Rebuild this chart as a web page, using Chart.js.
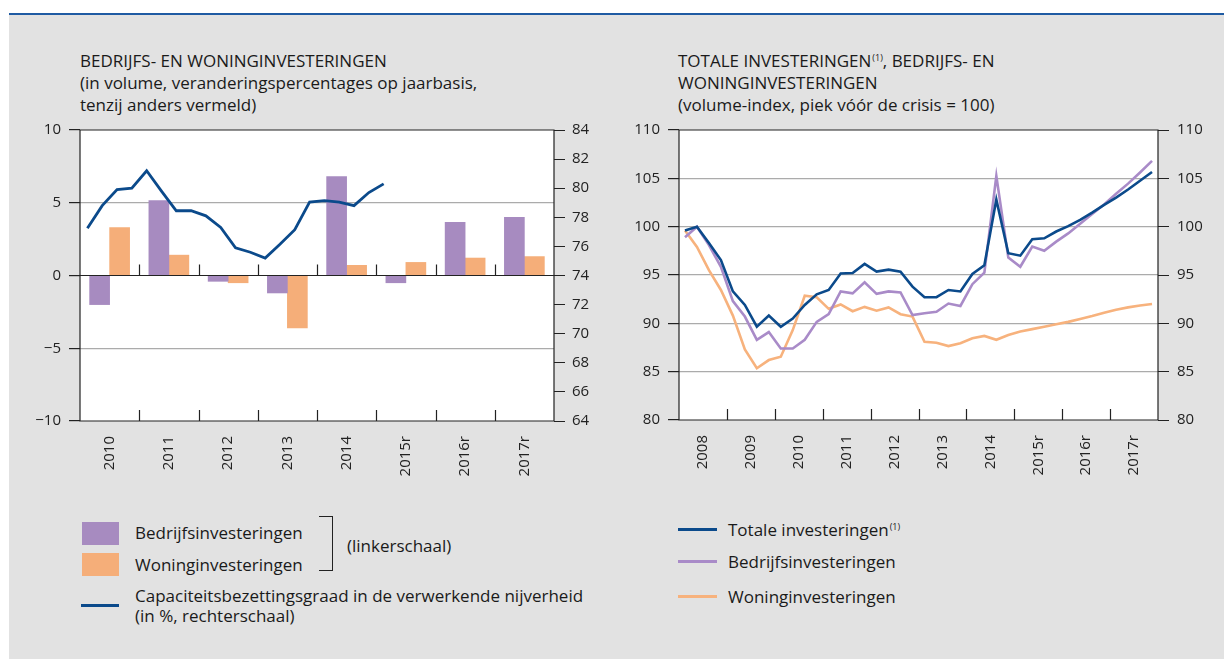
<!DOCTYPE html>
<html>
<head>
<meta charset="utf-8">
<script src="https://cdn.jsdelivr.net/npm/chart.js@4.4.1/dist/chart.umd.min.js"></script>
<style>
  html, body { margin:0; padding:0; background:#ffffff; }
  body { width:1224px; height:659px; position:relative; overflow:hidden; font-family:'Open Sans', sans-serif; color:#1a1a1a; }
  #panel { position:absolute; left:9px; top:15px; right:0; bottom:0; background:#e2e2e2; }
  #rule { position:absolute; left:9px; top:13px; right:0; height:2px; background:#1f5ba3; }
  .t { position:absolute; font-size:17px; line-height:22px; white-space:nowrap; color:#1a1a1a; }
  .lg { position:absolute; font-size:17px; line-height:20px; white-space:nowrap; color:#1a1a1a; }
  sup { font-size:9px; vertical-align:top; position:relative; top:-3px; margin-left:1px; }
  .box { position:absolute; }
  .cv { position:absolute; }
</style>
</head>
<body>
<div id="panel"></div>
<div id="rule"></div>

<div class="t" style="left:80px; top:50px;">BEDRIJFS- EN WONINGINVESTERINGEN<br>(in volume, veranderingspercentages op jaarbasis,<br>tenzij anders vermeld)</div>
<div class="t" style="left:678px; top:50px;">TOTALE INVESTERINGEN<sup>(1)</sup>, BEDRIJFS- EN<br>WONINGINVESTERINGEN<br>(volume-index, piek vóór de crisis = 100)</div>

<canvas id="c1" class="cv" width="600" height="360" style="left:20px; top:120px; width:600px; height:360px;"></canvas>
<canvas id="c2" class="cv" width="604" height="360" style="left:620px; top:120px; width:604px; height:360px;"></canvas>

<!-- left legend -->
<div class="box" style="left:82px; top:522px; width:37px; height:23px; background:#a78bc0;"></div>
<div class="box" style="left:82px; top:553px; width:37px; height:23px; background:#f5ae79;"></div>
<div class="lg" style="left:135px; top:523px;">Bedrijfsinvesteringen</div>
<div class="lg" style="left:135px; top:555px;">Woninginvesteringen</div>
<div class="box" style="left:319px; top:516px; width:13px; height:53px; border:1.5px solid #222; border-left:none;"></div>
<div class="lg" style="left:347px; top:536px;">(linkerschaal)</div>
<div class="box" style="left:81px; top:604px; width:38px; height:3px; background:#0b4a8b;"></div>
<div class="lg" style="left:135px; top:586px;">Capaciteitsbezettingsgraad in de verwerkende nijverheid<br>(in %, rechterschaal)</div>

<!-- right legend -->
<div class="box" style="left:678px; top:528px; width:39px; height:3px; background:#0b4a8b;"></div>
<div class="lg" style="left:728px; top:520px;">Totale investeringen<sup>(1)</sup></div>
<div class="box" style="left:678px; top:560px; width:39px; height:3px; background:#a98bc8;"></div>
<div class="lg" style="left:728px; top:552px;">Bedrijfsinvesteringen</div>
<div class="box" style="left:678px; top:595px; width:39px; height:3px; background:#f7b27d;"></div>
<div class="lg" style="left:728px; top:587px;">Woninginvesteringen</div>

<script>
// ---------- data: left chart ----------
const yearsLeft = ['2010', '2011', '2012', '2013', '2014', '2015r', '2016r', '2017r'];
const bedrijfsGroei = [-2.0, 5.15, -0.4, -1.2, 6.8, -0.5, 3.65, 4.0];
const woningGroei = [3.3, 1.4, -0.5, -3.6, 0.7, 0.9, 1.2, 1.3];
// quarterly, 2010Q1 .. 2015Q1
const capaciteit = [77.25, 78.8, 79.9, 80.0, 81.2, 79.8, 78.45, 78.45, 78.1, 77.3, 75.9, 75.6,
                    75.2, 76.15, 77.15, 79.05, 79.15, 79.05, 78.8, 79.7, 80.3];

// ---------- data: right chart (quarterly 2008Q1 .. 2017Q4) ----------
const yearsRight = ['2008', '2009', '2010', '2011', '2012', '2013', '2014', '2015r', '2016r', '2017r'];
const totaal = [99.6, 100.0, 98.3, 96.55, 93.3, 91.9, 89.65, 90.8, 89.65, 90.5,
                91.9, 93.0, 93.45, 95.15, 95.2, 96.15, 95.35, 95.55, 95.35, 93.8,
                92.7, 92.7, 93.45, 93.3, 95.1, 96.0, 102.8, 97.25, 97.0, 98.7,
                98.8, 99.5, 100.05, 100.7, 101.45, 102.25, 103.0, 103.85, 104.75, 105.65];
const bedrijfs = [98.9, 100.0, 98.1, 95.85, 92.3, 90.7, 88.3, 89.1, 87.4, 87.4,
                  88.3, 90.15, 90.95, 93.3, 93.1, 94.25, 93.05, 93.3, 93.2, 90.85,
                  91.05, 91.2, 92.05, 91.8, 94.05, 95.25, 105.25, 96.8, 95.85, 97.95,
                  97.5, 98.45, 99.3, 100.3, 101.3, 102.3, 103.4, 104.45, 105.6, 106.8];
const woning = [99.6, 97.9, 95.5, 93.45, 90.8, 87.3, 85.35, 86.2, 86.55, 89.3,
                92.85, 92.7, 91.5, 91.95, 91.25, 91.7, 91.3, 91.65, 90.95, 90.7,
                88.1, 88.0, 87.65, 87.95, 88.45, 88.7, 88.3, 88.8, 89.15, 89.4,
                89.65, 89.9, 90.15, 90.45, 90.75, 91.1, 91.4, 91.65, 91.85, 92.0];

const leftAxisMin = -10, leftAxisMax = 10, leftAxisStep = 5;
const capAxisMin = 64, capAxisMax = 84, capAxisStep = 2;
const idxAxisMin = 80, idxAxisMax = 110, idxAxisStep = 5;

function quarters(years) {
  const q = [];
  years.forEach(y => { for (let k = 1; k <= 4; k++) q.push(y + 'Q' + k); });
  return q;
}

const NAVY = '#0b4a8b', PURPLE = '#a78bc0', ORANGE = '#f5ae79';
const PURPLE_L = '#a98bc8', ORANGE_L = '#f7b27d';
const INK = '#222222', GRID = '#ababab';

Chart.defaults.font.family = "'Open Sans', sans-serif";
Chart.defaults.font.size = 15;
Chart.defaults.color = '#222222';

const framePlugin = {
  id: 'frame',
  beforeDraw(chart) {
    const { ctx, chartArea: a } = chart;
    ctx.save();
    ctx.fillStyle = '#ffffff';
    ctx.fillRect(a.left, a.top, a.right - a.left, a.bottom - a.top);
    ctx.restore();
  },
  afterDatasetsDraw(chart, args, opts) {
    const { ctx, chartArea: a, scales } = chart;
    ctx.save();
    ctx.strokeStyle = INK;
    ctx.lineWidth = 1.2;
    ctx.beginPath();
    ctx.rect(a.left, a.top, a.right - a.left, a.bottom - a.top);
    ctx.stroke();
    const ys = [a.bottom];
    if (opts.zero) {
      const z = scales.y.getPixelForValue(0);
      ys.push(z);
      ctx.beginPath();
      ctx.moveTo(a.left, z); ctx.lineTo(a.right, z);
      ctx.stroke();
    }
    const xs = scales.x;
    const n = xs.getLabels().length;
    ctx.beginPath();
    for (let i = 1; i < n; i++) {
      const px = Math.round((xs.getPixelForValue(i - 1) + xs.getPixelForValue(i)) / 2) + 0.5;
      ys.forEach(y => { ctx.moveTo(px, y); ctx.lineTo(px, y - 11); });
    }
    ctx.stroke();
    ctx.restore();
  }
};

const fmt = v => (v < 0 ? '\u2212' + Math.abs(v) : String(v));

function xAxis(labels, h) {
  return {
    type: 'category', labels: labels, offset: true,
    grid: { display: false, drawTicks: false },
    border: { display: false },
    ticks: { minRotation: 90, maxRotation: 90, autoSkip: false, padding: 15, color: '#222' },
    afterFit: s => { s.height = h; s.paddingLeft = 0; s.paddingRight = 0; }
  };
}
function hiddenQ(labels) {
  return { type: 'category', labels: labels, offset: true, display: false };
}
function fixW(w) {
  return s => { s.width = w; s.paddingTop = 0; s.paddingBottom = 0; };
}

// ---------- left chart ----------
new Chart(document.getElementById('c1'), {
  type: 'bar',
  data: {
    labels: yearsLeft,
    datasets: [
      { type: 'line', label: 'Capaciteitsbezettingsgraad', data: capaciteit, xAxisID: 'xq', yAxisID: 'y2',
        borderColor: NAVY, borderWidth: 2.8, pointRadius: 0, tension: 0, fill: false, order: 0 },
      { label: 'Bedrijfsinvesteringen', data: bedrijfsGroei, backgroundColor: PURPLE, xAxisID: 'x', yAxisID: 'y',
        barThickness: 20, order: 1 },
      { label: 'Woninginvesteringen', data: woningGroei, backgroundColor: ORANGE, xAxisID: 'x', yAxisID: 'y',
        barThickness: 20, order: 2 }
    ]
  },
  options: {
    responsive: false, animation: false,
    layout: { padding: { top: 10, left: 0, right: 0, bottom: 0 } },
    plugins: { legend: { display: false }, tooltip: { enabled: false }, frame: { zero: true } },
    scales: {
      x: xAxis(yearsLeft, 59),
      xq: hiddenQ(quarters(yearsLeft)),
      y: {
        position: 'left', min: leftAxisMin, max: leftAxisMax,
        ticks: { stepSize: leftAxisStep, padding: 8, callback: fmt, color: '#222' },
        grid: { color: c => (Math.abs(c.tick.value) === 5 ? GRID : 'rgba(0,0,0,0)'), lineWidth: 1.2,
                tickColor: INK, tickLength: 11, drawTicks: true },
        border: { display: false },
        afterFit: fixW(60)
      },
      y2: {
        position: 'right', min: capAxisMin, max: capAxisMax,
        ticks: { stepSize: capAxisStep, padding: 7, color: '#222' },
        grid: { drawOnChartArea: false, tickColor: INK, tickLength: 11 },
        border: { display: false },
        afterFit: fixW(66)
      }
    }
  },
  plugins: [framePlugin]
});

// ---------- right chart ----------
const idxY = (pos, w) => ({
  position: pos, min: idxAxisMin, max: idxAxisMax,
  ticks: { stepSize: idxAxisStep, padding: 8, color: '#222' },
  grid: pos === 'left'
    ? { color: c => ((c.tick.value === idxAxisMin || c.tick.value === idxAxisMax) ? 'rgba(0,0,0,0)' : GRID),
        lineWidth: 1.2, tickColor: INK, tickLength: 11 }
    : { drawOnChartArea: false, tickColor: INK, tickLength: 11 },
  border: { display: false },
  afterFit: fixW(w)
});

new Chart(document.getElementById('c2'), {
  type: 'line',
  data: {
    labels: yearsRight,
    datasets: [
      { label: 'Totale investeringen', data: totaal, xAxisID: 'xq', yAxisID: 'y',
        borderColor: NAVY, borderWidth: 2.6, pointRadius: 0, tension: 0, fill: false },
      { label: 'Bedrijfsinvesteringen', data: bedrijfs, xAxisID: 'xq', yAxisID: 'y',
        borderColor: PURPLE_L, borderWidth: 2.6, pointRadius: 0, tension: 0, fill: false },
      { label: 'Woninginvesteringen', data: woning, xAxisID: 'xq', yAxisID: 'y',
        borderColor: ORANGE_L, borderWidth: 2.6, pointRadius: 0, tension: 0, fill: false }
    ]
  },
  options: {
    responsive: false, animation: false,
    layout: { padding: { top: 10, left: 0, right: 0, bottom: 0 } },
    plugins: { legend: { display: false }, tooltip: { enabled: false }, frame: { zero: false } },
    scales: {
      x: xAxis(yearsRight, 60),
      xq: hiddenQ(quarters(yearsRight)),
      y: idxY('left', 59),
      y2: idxY('right', 66)
    }
  },
  plugins: [framePlugin]
});
</script>
</body>
</html>
